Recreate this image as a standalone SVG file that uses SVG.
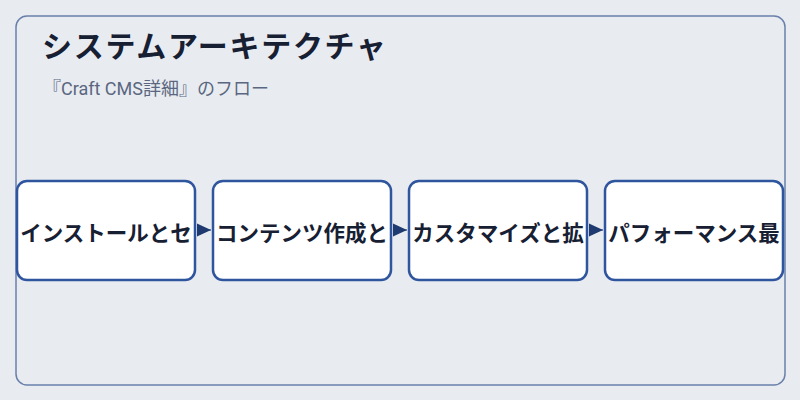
<svg xmlns="http://www.w3.org/2000/svg" width="800" height="400" viewBox="0 0 800 400">
  <defs>
    <style>
      .frame { fill: #e8ecf1; stroke: #6a80aa; stroke-width: 1.5; }
      .node rect { fill: #ffffff; stroke: #2f559e; stroke-width: 2.5; }
      .node text { font-family: "Noto Sans CJK JP", sans-serif; font-weight: bold; font-size: 21.5px; fill: #172033; text-anchor: middle; dominant-baseline: central; }
      .title { font-family: "Noto Sans CJK JP", sans-serif; font-weight: bold; font-size: 30px; fill: #172033; letter-spacing: 1.7px; }
      .subtitle { font-family: Roboto, "Noto Sans CJK JP", sans-serif; font-size: 18px; fill: #5b6780; }
      .conn { stroke: #1e3a70; stroke-width: 1; fill: none; }
    </style>
    <marker id="arrow" viewBox="0 0 14 14" refX="14" refY="7" markerWidth="14" markerHeight="14" markerUnits="userSpaceOnUse" orient="auto">
      <path d="M0,0.5 L14,7 L0,13.5 Z" fill="#1e3a70"/>
    </marker>
  </defs>
  <rect x="0" y="0" width="800" height="400" fill="#e8ecf1"/>
  <rect class="frame" x="16" y="16" width="769" height="369" rx="11"/>
  <text class="title" x="42" y="57">システムアーキテクチャ</text>
  <text class="subtitle" x="43" y="95">『Craft CMS詳細』のフロー</text>

  <g id="connectors">
    <line class="conn" x1="198" y1="230" x2="211" y2="230" marker-end="url(#arrow)"/>
    <line class="conn" x1="394" y1="230" x2="407" y2="230" marker-end="url(#arrow)"/>
    <line class="conn" x1="590" y1="230" x2="603" y2="230" marker-end="url(#arrow)"/>
  </g>

  <g id="node1" class="node">
    <rect x="17" y="181" width="178" height="99" rx="10"/>
    <text x="106" y="231">インストールとセ</text>
  </g>
  <g id="node2" class="node">
    <rect x="213" y="181" width="178" height="99" rx="10"/>
    <text x="302" y="231">コンテンツ作成と</text>
  </g>
  <g id="node3" class="node">
    <rect x="409" y="181" width="178" height="99" rx="10"/>
    <text x="498" y="231">カスタマイズと拡</text>
  </g>
  <g id="node4" class="node">
    <rect x="605" y="181" width="178" height="99" rx="10"/>
    <text x="694" y="231">パフォーマンス最</text>
  </g>
</svg>
